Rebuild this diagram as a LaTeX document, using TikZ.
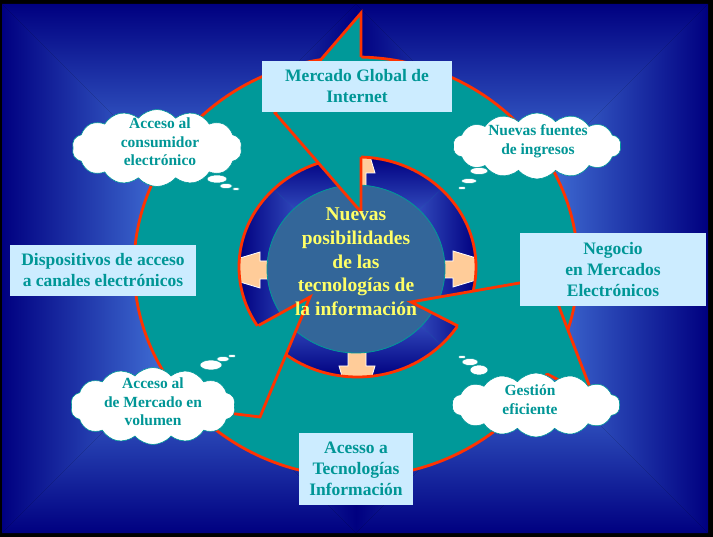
\documentclass[tikz,border=0pt]{standalone}
\usepackage{fontspec}
\setmainfont{Liberation Serif}
\usetikzlibrary{shapes.symbols}
\definecolor{navy}{RGB}{0,0,128}
\definecolor{bgglow}{RGB}{70,120,220}
\definecolor{ringglow}{RGB}{100,150,250}
\definecolor{bandteal}{RGB}{0,153,153}
\definecolor{redline}{RGB}{255,51,0}
\definecolor{hubblue}{RGB}{51,102,153}
\definecolor{boxblue}{RGB}{204,236,255}
\definecolor{peach}{RGB}{255,204,153}
\definecolor{hubtext}{RGB}{255,255,102}
\definecolor{labeltext}{RGB}{0,150,150}
\def\rectglow(#1,#2)(#3,#4)(#5,#6)(#7,#8)#9{%
  \shade[top color=navy, bottom color=#9] (#1,#2) -- (#3,#2) -- (#5,#6) -- cycle;
  \shade[top color=#9, bottom color=navy] (#1,#4) -- (#3,#4) -- (#7,#8) -- cycle;
  \shade[left color=navy, right color=#9] (#1,#2) -- (#5,#6) -- (#7,#8) -- (#1,#4) -- cycle;
  \shade[left color=#9, right color=navy] (#3,#2) -- (#5,#6) -- (#7,#8) -- (#3,#4) -- cycle;}
\tikzset{
  rim/.style={draw=redline, line width=2.8pt},
  panel/.style={fill=boxblue, text=labeltext, font=\bfseries\fontsize{17.5}{21}\selectfont, align=center, inner sep=0pt},
  thought/.style={cloud, cloud puffs=14, cloud puff arc=100, aspect=2.4, fill=white, draw=bandteal, line width=0.6pt, inner sep=0pt},
  thoughttext/.style={text=labeltext, font=\bfseries\fontsize{15.5}{18.7}\selectfont, align=center},
  bubble/.style={fill=white, draw=bandteal, line width=0.5pt},
  arrowpeach/.style={fill=peach, draw=white, line width=0.8pt}
}

\begin{document}
\begin{tikzpicture}[x=1pt,y=-1pt]
			%%%%% START %%%%%
			\useasboundingbox (0,0) rectangle (713,537);
			
			\fill[black] (0,0) rectangle (713,537);
			\rectglow(2,4)(356,533)(179,181)(179,356){bgglow}
			\rectglow(356,4)(708,533)(532,180)(532,357){bgglow}
			
			\draw[rim, fill=bandteal] (356,267) ellipse [x radius=222, y radius=210];
			
			\begin{scope}
			\clip (357.5,267) ellipse [x radius=118.5, y radius=110];
			\rectglow(239,157)(476,377)(357.5,267)(357.5,267){ringglow}
			\draw[arrowpeach] (280,261) -- (260,261) -- (260,252) -- (200,270) -- (260,288) -- (260,279) -- (280,279) -- cycle;
			\draw[arrowpeach] (435,261) -- (453,261) -- (453,251) -- (513,269) -- (453,287) -- (453,278) -- (435,278) -- cycle;
			\draw[arrowpeach] (348,195) -- (348,173) -- (339,173) -- (357,113) -- (375,173) -- (366,173) -- (366,195) -- cycle;
			\draw[arrowpeach] (348,345) -- (348,366) -- (339,366) -- (357,426) -- (375,366) -- (366,366) -- (366,345) -- cycle;
			\end{scope}
			\draw[rim] (357.5,267) ellipse [x radius=118.5, y radius=110];
			
			\draw[fill=hubblue, draw=bandteal, line width=0.8pt] (356,269) ellipse [x radius=89, y radius=84];
			
			\coordinate (o1) at (361,13);
			\coordinate (t1) at (275,113);
			\coordinate (n1) at (361,212);
			\coordinate (o2) at (594,398);
			\coordinate (t2) at (548,278);
			\coordinate (n2) at (411,302);
			\coordinate (o3) at (124,400);
			\coordinate (t3) at (260,417);
			\coordinate (n3) at (310,297);
			\fill[bandteal] (o1) -- (t1) -- (n1) -- cycle;
			\fill[bandteal] (o2) -- (t2) -- (n2) -- cycle;
			\fill[bandteal] (o3) -- (t3) -- (n3) -- cycle;
			\draw[rim] (361,57) -- (o1) -- (t1) -- (n1) -- (361,157);
			\draw[rim] (547,374) -- (o2) -- (t2) -- (n2) -- (458,326);
			\draw[rim] (167,376) -- (o3) -- (t3) -- (n3) -- (258.5,325.5);
			
			\node[panel, minimum width=190pt, minimum height=51pt] (global) at (357,86.5) {Mercado Global de\\Internet};
			\node[panel, minimum width=186pt, minimum height=51pt] (devices) at (103,270.5) {Dispositivos de acceso\\a canales electrónicos};
			\node[panel, minimum width=186pt, minimum height=73pt] (markets) at (613,269.5) {Negocio\\en Mercados\\Electrónicos};
			\node[panel, minimum width=114pt, minimum height=72pt] (access) at (356,469) {Acesso a\\Tecnologías\\Información};
			
			\node[thought, minimum width=170pt, minimum height=77pt] (consumer) at (157,148) {};
			\node[thoughttext] (consumer-text) at (160,142) {Acceso al\\consumidor\\electrónico};
			\draw[bubble] (217,179) ellipse [x radius=10, y radius=4];
			\draw[bubble] (226,186) ellipse [x radius=6.5, y radius=2.5];
			\draw[bubble] (236,189) ellipse [x radius=3.5, y radius=1.5];
			
			\node[thought, minimum width=168pt, minimum height=66pt] (income) at (537,146) {};
			\node[thoughttext] (income-text) at (538,141) {Nuevas fuentes\\de ingresos};
			\draw[bubble] (479,171) ellipse [x radius=9, y radius=3.5];
			\draw[bubble] (469,181) ellipse [x radius=7.5, y radius=2.5];
			\draw[bubble] (462,188) ellipse [x radius=4, y radius=1.5];
			
			\node[thought, minimum width=165pt, minimum height=77pt] (volume) at (153,406) {};
			\node[thoughttext] (volume-text) at (153,402) {Acceso al\\de Mercado en\\volumen};
			\draw[bubble] (211,365) ellipse [x radius=11, y radius=5];
			\draw[bubble] (223,359) ellipse [x radius=6.5, y radius=2.5];
			\draw[bubble] (232,356) ellipse [x radius=4, y radius=1.5];
			
			\node[thought, minimum width=168pt, minimum height=64pt] (efficiency) at (536,405) {};
			\node[thoughttext] (efficiency-text) at (530,400) {Gestión\\eficiente};
			\draw[bubble] (479,370) ellipse [x radius=9, y radius=5];
			\draw[bubble] (470,362) ellipse [x radius=8, y radius=3.5];
			\draw[bubble] (462,357) ellipse [x radius=4, y radius=1.5];
			
			\node[text=hubtext, font=\bfseries\fontsize{19.5}{23.7}\selectfont, align=center] (hub) at (356,262) {Nuevas\\posibilidades\\de las\\tecnologías de\\la información};
			
			%%%%% END %%%%%
\end{tikzpicture}
\end{document}
